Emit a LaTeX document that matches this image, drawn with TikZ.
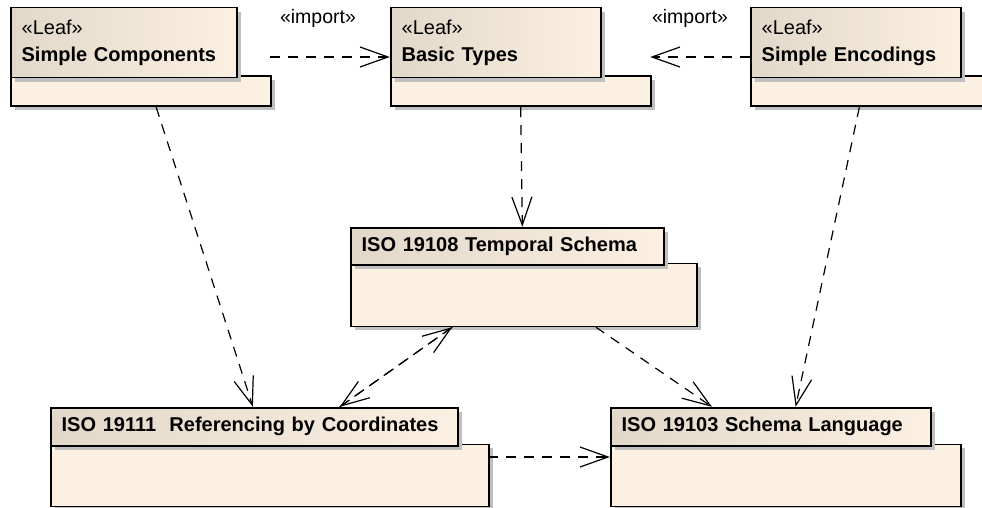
\documentclass[tikz,border=0pt]{standalone}
\usepackage{fontspec}
\setmainfont{Liberation Sans}
\usetikzlibrary{positioning}
\usetikzlibrary{arrows.meta}
\usetikzlibrary{shadows}
\definecolor{pkgfill}{RGB}{251,240,225}
\definecolor{pkgdark}{RGB}{226,216,202}

\begin{document}
\begin{tikzpicture}[x=1pt, y=-1pt,
        pkg/.style={rectangle, minimum width=#1, inner sep=0pt},
        pkgtab/.style={rectangle, draw=black, line width=1.7pt, left color=pkgdark, right color=pkgfill,
                       anchor=north west, inner xsep=11pt, inner ysep=0pt, align=left,
                       font=\fontsize{20}{27}\selectfont,
                       drop shadow={shadow xshift=4pt, shadow yshift=-4pt, fill=black!25, opacity=1}},
        pkgbody/.style={rectangle, draw=black, line width=1.7pt, fill=pkgfill, anchor=south west,
                        inner sep=0pt,
                        drop shadow={shadow xshift=4pt, shadow yshift=-4pt, fill=black!25, opacity=1}},
        dep/.style={draw=black, line width=1.2pt, dash pattern=on 10pt off 8pt,
                    -{Straight Barb[length=28pt, width=20pt, line width=1.2pt]}},
        imp/.style={font=\fontsize{19.5}{22}\selectfont, inner sep=0pt},
        ]
            \useasboundingbox (0,0) rectangle (982,508);

            % package boxes (whole outline, arrows meet these)
            \node[pkg=260, minimum height=100] (comp) at (140,57) {};
            \node[pkg=260, minimum height=100] (basic) at (520,57) {};
            \node[pkg=240, minimum height=100] (enc) at (870,57) {};
            \node[pkg=346, minimum height=100] (temp) at (523,277) {};
            \node[pkg=438, minimum height=100] (ref) at (269,457) {};
            \node[pkg=350, minimum height=100] (lang) at (785,457) {};

            % tabs and bodies
            \node[pkgbody, minimum width=260, minimum height=30] (compB) at (comp.south west) {};
            \node[pkgtab, text width=204, minimum height=70] (compT) at (comp.north west)
                {«Leaf»\\\textbf{Simple Components}};
            \node[pkgbody, minimum width=260, minimum height=30] (basicB) at (basic.south west) {};
            \node[pkgtab, text width=188, minimum height=70] (basicT) at (basic.north west)
                {«Leaf»\\\textbf{Basic Types}};
            \node[pkgbody, minimum width=240, minimum height=30] (encB) at (enc.south west) {};
            \node[pkgtab, text width=188, minimum height=70] (encT) at (enc.north west)
                {«Leaf»\\\textbf{Simple Encodings}};
            \node[pkgbody, minimum width=346, minimum height=63] (tempB) at (temp.south west) {};
            \node[pkgtab, text width=291, minimum height=37] (tempT) at (temp.north west)
                {\textbf{ISO 19108 Temporal Schema}};
            \node[pkgbody, minimum width=438, minimum height=62] (refB) at (ref.south west) {};
            \node[pkgtab, text width=385, minimum height=38] (refT) at (ref.north west)
                {\textbf{ISO 19111\ \ Referencing by Coordinates}};
            \node[pkgbody, minimum width=350, minimum height=62] (langB) at (lang.south west) {};
            \node[pkgtab, text width=298, minimum height=38] (langT) at (lang.north west)
                {\textbf{ISO 19103 Schema Language}};

            % dependencies
            \draw[dep] (comp) -- node[imp, midway, above=29pt, xshift=-12pt] (imp1) {«import»} (basic);
            \draw[dep] (enc) -- node[imp, midway, above=29pt, xshift=-10pt] (imp2) {«import»} (basic);
            \draw[dep] (basic) -- (temp);
            \draw[dep] (comp) -- (ref);
            \draw[dep] (enc) -- (lang);
            \draw[dep] (temp) -- (lang);
            \draw[dep] (temp) -- (ref);
            \draw[dep] (ref) -- (temp);
            \draw[dep] (ref) -- (lang);
        \end{tikzpicture}
\end{document}
